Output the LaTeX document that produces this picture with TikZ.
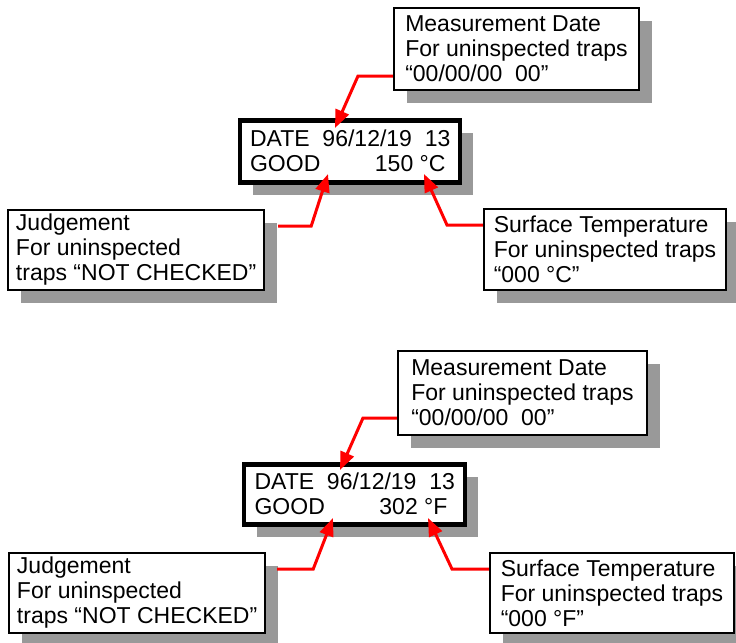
\documentclass[tikz,border=0pt]{standalone}
\usepackage{fontspec}
\setmainfont{Liberation Sans}
\usetikzlibrary{arrows.meta,shadows,calc}
\definecolor{shadegray}{HTML}{999999}
\definecolor{pointred}{HTML}{FF0000}
\tikzset{
  note/.style={draw, line width=1pt, fill=white, anchor=north west, align=left,
    inner xsep=4pt, inner ysep=0pt,
    font=\fontsize{11.5pt}{12.5pt}\selectfont,
    drop shadow={shadow xshift=6.5pt, shadow yshift=-6.5pt, fill=shadegray, opacity=1}},
  lcd/.style={note, line width=2.25pt},
  pointer/.style={draw=pointred, line width=1.5pt, line join=miter,
    -{Triangle[length=9pt,width=7pt]}}
}
\begin{document}
\begin{tikzpicture}[x=0.5pt,y=-0.5pt]
  \useasboundingbox (0,0) rectangle (736,643);

  % upper display, Celsius
  \node[note, minimum width=122.5pt, minimum height=41pt] (date1) at (393,7)
    {Measurement Date\\For uninspected traps\\“00/00/00\ \ 00”};
  \node[lcd, minimum width=110pt, minimum height=31pt] (disp1) at (238,118)
    {DATE\ \ 96/12/19\ \ 13\\GOOD\hspace{27.3pt}150 °C};
  \node[note, minimum width=125.5pt, minimum height=40pt] (judge1) at (7,209)
    {Judgement\\For uninspected\\traps “NOT CHECKED”};
  \node[note, minimum width=121pt, minimum height=40.5pt] (surf1) at (483,208)
    {Surface Temperature\\For uninspected traps\\“000 °C”};

  \draw[pointer] ([yshift=7.5pt]date1.south west) -- ++(-35,0) -- ([shift={(97,10)}]disp1.north west);
  \draw[pointer] ([shift={(13,17)}]judge1.north east) -- ++(33,0) -- ([shift={(90,56)}]disp1.north west);
  \draw[pointer] ([yshift=-8.5pt]surf1.north west) -- ++(-36,0) -- ([shift={(186,56)}]disp1.north west);

  % lower display, Fahrenheit
  \node[note, minimum width=124.5pt, minimum height=42pt] (date2) at (397,350)
    {Measurement Date\\For uninspected traps\\“00/00/00\ \ 00”};
  \node[lcd, minimum width=110.5pt, minimum height=30pt] (disp2) at (242,462)
    {DATE\ \ 96/12/19\ \ 13\\GOOD\hspace{27.3pt}302 °F};
  \node[note, minimum width=126.5pt, minimum height=40pt] (judge2) at (8,552)
    {Judgement\\For uninspected\\traps “NOT CHECKED”};
  \node[note, minimum width=122pt, minimum height=40pt] (surf2) at (489,552)
    {Surface Temperature\\For uninspected traps\\“000 °F”};

  \draw[pointer] ([yshift=9pt]date2.south west) -- ++(-34,0) -- ([shift={(98,8)}]disp2.north west);
  \draw[pointer] ([shift={(11,17)}]judge2.north east) -- ++(36,0) -- ([shift={(91,56)}]disp2.north west);
  \draw[pointer] ([yshift=-8.5pt]surf2.north west) -- ++(-37,0) -- ([shift={(186,56)}]disp2.north west);
\end{tikzpicture}
\end{document}
